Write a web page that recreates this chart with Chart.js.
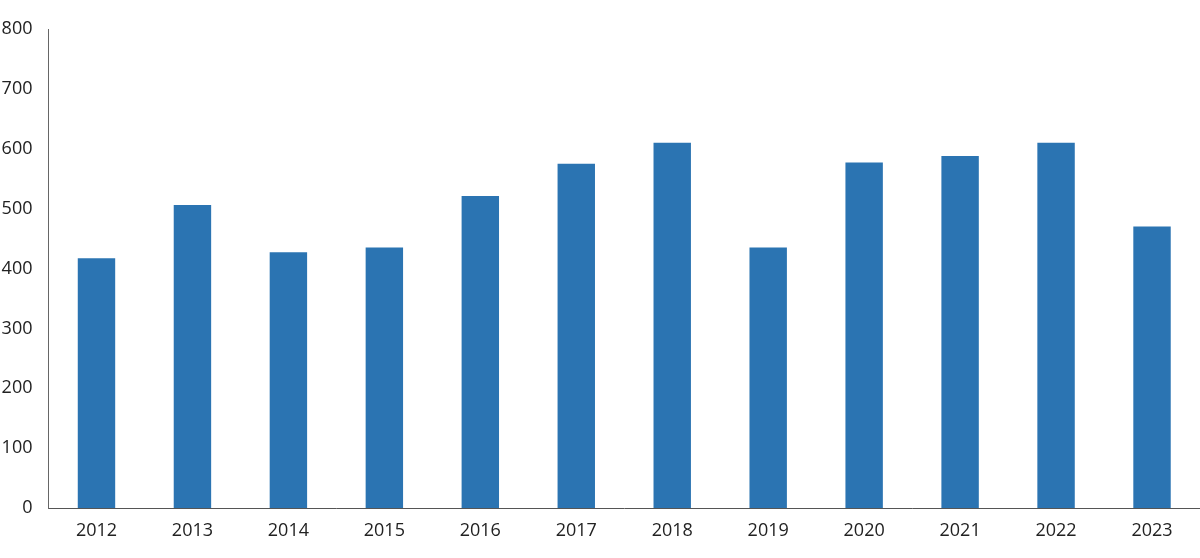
<!DOCTYPE html>
<html lang="en">
<head>
    <meta charset="UTF-8">
    <title>Bar chart 2012-2023</title>
    <script src="https://cdn.jsdelivr.net/npm/chart.js"></script>
    <style>
        body {
            margin: 0;
            padding: 0;
            background: #ffffff;
        }
        .chart-container {
            position: relative;
            width: 1200px;
            height: 558px;
        }
    </style>
</head>
<body>
    <div class="chart-container">
        <canvas id="barChart"></canvas>
    </div>

    <script>
        const years = ["2012", "2013", "2014", "2015", "2016", "2017", "2018", "2019", "2020", "2021", "2022", "2023"];
        const values = [417, 506, 427, 435, 521, 575, 610, 435, 577, 588, 610, 470];
        const yTicks = [0, 100, 200, 300, 400, 500, 600, 700, 800];

        const ctx = document.getElementById("barChart").getContext("2d");
        new Chart(ctx, {
            type: "bar",
            data: {
                labels: years,
                datasets: [{
                    data: values,
                    backgroundColor: "#2b74b2",
                    barPercentage: 0.39,
                    categoryPercentage: 1.0
                }]
            },
            options: {
                responsive: true,
                maintainAspectRatio: false,
                animation: false,
                layout: { padding: { top: 29, right: 0, bottom: 0, left: 0 } },
                plugins: {
                    legend: { display: false },
                    tooltip: { enabled: false }
                },
                scales: {
                    x: {
                        grid: { display: false, drawTicks: false },
                        border: { color: "#555555", width: 1 },
                        ticks: {
                            color: "#222222",
                            padding: 12,
                            font: { family: "'Open Sans', sans-serif", size: 18 }
                        },
                        afterFit: function(axis) { axis.height = 50; }
                    },
                    y: {
                        min: 0,
                        max: 800,
                        afterBuildTicks: function(axis) {
                            axis.ticks = yTicks.map(v => ({ value: v }));
                        },
                        grid: { display: false, drawTicks: false },
                        border: { color: "#666666", width: 1 },
                        ticks: {
                            color: "#222222",
                            padding: 16,
                            font: { family: "'Open Sans', sans-serif", size: 18 }
                        },
                        afterFit: function(axis) { axis.width = 48.5; }
                    }
                }
            }
        });
    </script>
</body>
</html>
